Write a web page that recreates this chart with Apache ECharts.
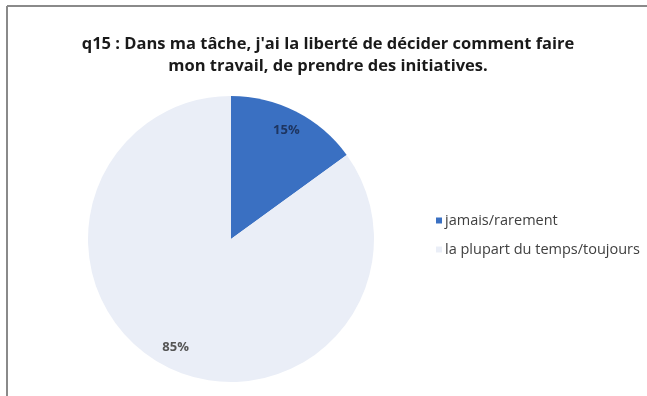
<!DOCTYPE html>
<html>
<head>
<meta charset="utf-8">
<script src="https://cdn.jsdelivr.net/npm/echarts@6/dist/echarts.min.js"></script>
<style>html,body{margin:0;padding:0;background:#fff}#c{width:647px;height:396px}</style>
</head>
<body>
<div id="c"></div>
<script>
var titleText = "q15 : Dans ma tâche, j'ai la liberté de décider comment faire\nmon travail, de prendre des initiatives.";
var categories = ["jamais/rarement", "la plupart du temps/toujours"];
var values = [15, 85];
var sliceColors = ["#3a70c2", "#eaeef7"];
var labelColors = ["#1e3560", "#555555"];

var chart = echarts.init(document.getElementById('c'), null, {renderer: 'canvas'});
var data = categories.map(function (c, i) {
  return {name: c, value: values[i], itemStyle: {color: sliceColors[i]},
          label: {color: labelColors[i]}};
});
var labelData = categories.map(function (c, i) {
  return {name: c, value: values[i], itemStyle: {color: 'rgba(0,0,0,0)'},
          label: {color: labelColors[i]}};
});
chart.setOption({
  backgroundColor: '#ffffff',
  animation: false,
  title: {
    text: titleText,
    left: 323, top: 28, textAlign: 'center',
    textStyle: {fontFamily: 'Open Sans', fontWeight: 'bold', fontSize: 16.5, color: '#1a1a1a', lineHeight: 22}
  },
  legend: {
    orient: 'vertical', left: 431, top: 208,
    itemWidth: 6, itemHeight: 6, itemGap: 14, icon: 'rect',
    textStyle: {fontFamily: 'Open Sans', fontSize: 14.5, color: '#404040', padding: [0,0,0,-2]},
    data: categories
  },
  graphic: [
    {type: 'line', shape: {x1: 7, y1: 6, x2: 647, y2: 6}, style: {stroke: '#8a8a8a', lineWidth: 2}},
    {type: 'line', shape: {x1: 7, y1: 6, x2: 7, y2: 396}, style: {stroke: '#8a8a8a', lineWidth: 2}}
  ],
  series: [
    {
      type: 'pie', center: [231, 239], radius: [0, 143], startAngle: 90, clockwise: true,
      label: {show: false}, labelLine: {show: false}, silent: true,
      data: data
    },
    {
      type: 'pie', center: [231, 239], radius: [95, 143], startAngle: 90, clockwise: true,
      silent: true, legendHoverLink: false,
      label: {show: true, position: 'inside', formatter: '{d}%', fontFamily: 'Open Sans', fontSize: 13, fontWeight: 'bold'},
      labelLine: {show: false},
      data: labelData
    }
  ]
});
</script>
</body>
</html>
